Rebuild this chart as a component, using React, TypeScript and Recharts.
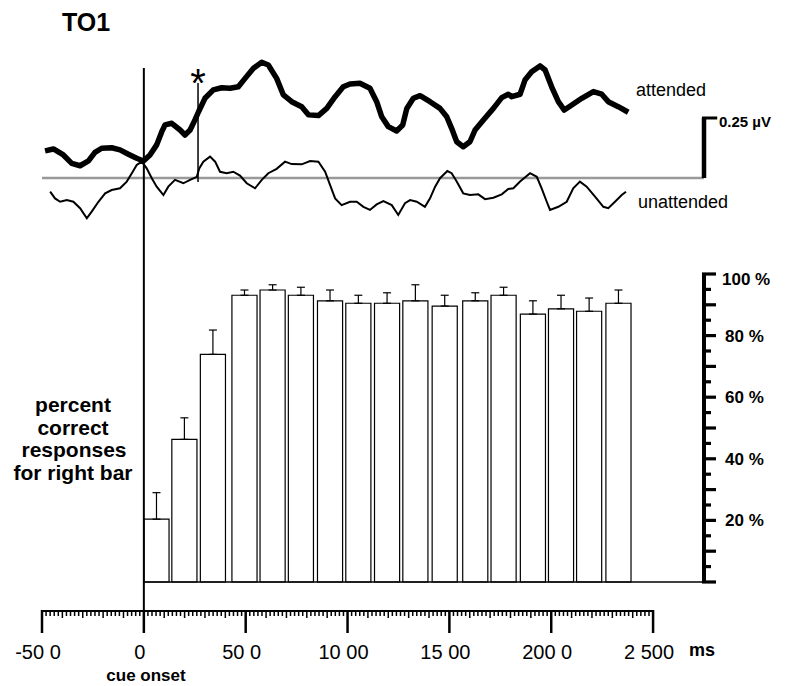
import React from "react";
import {
  ComposedChart,
  Bar,
  Line,
  XAxis,
  YAxis,
  ErrorBar,
  ReferenceLine,
} from "recharts";

// ---- percent correct bars (bin centre in ms, percent, top of error bar) ----
const binT = [64, 201, 341, 496, 634, 773, 916, 1055, 1196, 1335, 1479, 1629, 1768, 1912, 2050, 2188, 2332];
const pctCorrect = [20.4, 46.3, 73.9, 93.1, 94.8, 93.1, 91.3, 90.5, 90.5, 91.3, 89.6, 91.3, 93.1, 87.0, 88.7, 87.9, 90.5];
const errTop = [29.0, 53.3, 81.8, 94.8, 96.5, 95.7, 94.8, 93.1, 93.9, 96.5, 93.1, 93.9, 95.7, 91.3, 93.1, 92.2, 94.8];

// ---- ERP waveforms (ms, µV) ----
const attended = [
  [-485, 0.113], [-444, 0.121], [-395, 0.096], [-354, 0.061], [-313, 0.051], [-272, 0.071], [-240, 0.107],
  [-207, 0.124], [-158, 0.126], [-117, 0.117], [-76, 0.099], [-35, 0.082], [-2, 0.071], [30, 0.096],
  [63, 0.138], [88, 0.193], [104, 0.221], [137, 0.228], [178, 0.2], [202, 0.179], [227, 0.2], [251, 0.242],
  [268, 0.275], [300, 0.332], [341, 0.367], [382, 0.376], [423, 0.374], [464, 0.38], [497, 0.415],
  [538, 0.457], [579, 0.482], [611, 0.471], [652, 0.415], [685, 0.346], [726, 0.318], [775, 0.297],
  [808, 0.263], [857, 0.26], [898, 0.29], [939, 0.339], [979, 0.38], [1012, 0.392], [1061, 0.395],
  [1110, 0.374], [1143, 0.318], [1168, 0.255], [1200, 0.214], [1241, 0.196], [1271, 0.221], [1291, 0.29],
  [1323, 0.332], [1356, 0.343], [1405, 0.318], [1454, 0.29], [1487, 0.255], [1511, 0.207], [1536, 0.151],
  [1568, 0.13], [1601, 0.151], [1626, 0.2], [1667, 0.242], [1716, 0.29], [1757, 0.335], [1789, 0.349],
  [1806, 0.339], [1847, 0.349], [1871, 0.408], [1904, 0.443], [1945, 0.467], [1970, 0.45], [2002, 0.38],
  [2035, 0.318], [2064, 0.283], [2101, 0.304], [2150, 0.332], [2207, 0.36], [2248, 0.349], [2280, 0.318],
  [2329, 0.297], [2378, 0.274],
];
const unattended = [
  [-460, -0.057], [-436, -0.085], [-411, -0.099], [-378, -0.092], [-346, -0.099], [-313, -0.126],
  [-280, -0.168], [-256, -0.14], [-223, -0.099], [-190, -0.064], [-158, -0.05], [-117, -0.043],
  [-84, -0.015], [-59, 0.02], [-35, 0.054], [-10, 0.068], [14, 0.04], [39, -0.001], [63, -0.036],
  [96, -0.071], [120, -0.036], [153, -0.008], [194, -0.022], [227, -0.008], [260, 0.005], [272, 0.04],
  [292, 0.068], [325, 0.089], [350, 0.068], [374, 0.026], [407, 0.02], [439, 0.026], [472, 0.01],
  [505, -0.022], [546, -0.043], [579, -0.008], [611, 0.02], [652, 0.038], [693, 0.068], [726, 0.058],
  [775, 0.057], [816, 0.071], [857, 0.068], [890, 0.026], [914, -0.029], [939, -0.085], [971, -0.113],
  [1012, -0.099], [1045, -0.099], [1078, -0.12], [1110, -0.133], [1143, -0.11], [1176, -0.096],
  [1217, -0.113], [1249, -0.154], [1282, -0.105], [1307, -0.092], [1340, -0.099], [1380, -0.12],
  [1405, -0.085], [1430, -0.036], [1454, -0.001], [1490, 0.029], [1511, 0.02], [1536, -0.015],
  [1568, -0.064], [1601, -0.071], [1642, -0.068], [1675, -0.088], [1716, -0.082], [1757, -0.068],
  [1789, -0.046], [1814, -0.043], [1847, -0.015], [1896, 0.02], [1929, 0.005], [1953, -0.043],
  [1978, -0.099], [1994, -0.133], [2035, -0.12], [2076, -0.099], [2108, -0.043], [2141, -0.015],
  [2174, -0.036], [2215, -0.078], [2256, -0.12], [2280, -0.126], [2313, -0.099], [2346, -0.071],
  [2367, -0.057],
];

// ---- axes ----
const xMajorTicks = [-500, 0, 500, 1000, 1500, 2000, 2500];
const xTickLabels = ["-50 0", "0", "50 0", "10 00", "15 00", "200 0", "2 500"];
const pctLabelTicks = [20, 40, 60, 80, 100];
const starT = 266;
const scaleBarUV = 0.25;

const X_DOMAIN: [number, number] = [-500, 2750];
const PCT_DOMAIN: [number, number] = [-9.42, 172.73];
const UV_DOMAIN: [number, number] = [-1.8042, 0.5333];

const barData = binT.map((t, i) => ({
  t,
  pct: pctCorrect[i],
  err: [0, +(errTop[i] - pctCorrect[i]).toFixed(2)],
}));
const attendedData = attended.map(([t, uv]) => ({ t, uv }));
const unattendedData = unattended.map(([t, uv]) => ({ t, uv }));

const xTicks: number[] = [];
for (let v = -500; v <= 2500; v += 20) xTicks.push(v);
const pctTicks: number[] = [];
for (let v = 0; v <= 100; v += 5) pctTicks.push(v);

const FONT = "'Liberation Sans', Arial, Helvetica, sans-serif";

const XTick = (props: any) => {
  const { x, y, payload } = props;
  const v = payload.value as number;
  const majorIdx = xMajorTicks.indexOf(v);
  const major = majorIdx >= 0;
  const mid = v % 100 === 0;
  const len = major ? 22 : mid ? 7 : 5;
  return (
    <g>
      <line x1={x} x2={x} y1={y - 1} y2={y + len} stroke="#000" strokeWidth={major ? 2.5 : 1.5} />
      {major && (
        <text x={x - 4} y={y + 48} textAnchor="middle" fontSize={20} fontFamily={FONT} fill="#000">
          {xTickLabels[majorIdx]}
        </text>
      )}
    </g>
  );
};

const PctTick = (props: any) => {
  const { x, y, payload } = props;
  const v = payload.value as number;
  const major = v % 10 === 0;
  const showLabel = pctLabelTicks.indexOf(v) >= 0;
  return (
    <g>
      <rect x={x - 2} y={y - 1.6} width={major ? 14 : 9} height={3.2} fill="#000" />
      {showLabel && (
        <text
          x={x + (v === 100 ? 18 : 21)}
          y={y + 6 + (v === 100 ? 5 : 0)}
          fontSize={17}
          fontWeight="bold"
          fontFamily={FONT}
          fill="#000"
        >
          {`${v} %`}
        </text>
      )}
    </g>
  );
};

export default function App() {
  return (
    <div style={{ position: "absolute", left: 0, top: 0, width: 785, height: 686, background: "#fff" }}>
      <ComposedChart
        width={785}
        height={686}
        data={barData}
        margin={{ top: 50, right: 11, bottom: 35, left: 42 }}
      >
        <XAxis
          xAxisId="main"
          type="number"
          dataKey="t"
          domain={X_DOMAIN}
          allowDataOverflow
          ticks={xTicks}
          interval={0}
          axisLine={false}
          tickLine={false}
          tickSize={0}
          tickMargin={0}
          height={40}
          tick={<XTick />}
        />
        <XAxis xAxisId="wave" type="number" dataKey="t" domain={X_DOMAIN} allowDataOverflow hide />
        <YAxis
          yAxisId="pct"
          orientation="right"
          type="number"
          domain={PCT_DOMAIN}
          allowDataOverflow
          ticks={pctTicks}
          interval={0}
          axisLine={false}
          tickLine={false}
          tickSize={0}
          tickMargin={0}
          width={70}
          tick={<PctTick />}
        />
        <YAxis yAxisId="uv" type="number" domain={UV_DOMAIN} allowDataOverflow hide />

        {/* grey zero line of the ERP panel */}
        <ReferenceLine
          xAxisId="wave"
          yAxisId="uv"
          segment={[{ x: -500, y: 0 }, { x: 2750, y: 0 }]}
          stroke="#999"
          strokeWidth={2.5}
          ifOverflow="visible"
        />

        <Bar
          xAxisId="main"
          yAxisId="pct"
          dataKey="pct"
          barSize={28}
          fill="#fff"
          stroke="#000"
          strokeWidth={1.2}
          isAnimationActive={false}
        >
          <ErrorBar dataKey="err" width={4} stroke="#000" strokeWidth={1.2} direction="y" />
        </Bar>

        <Line
          xAxisId="wave"
          yAxisId="uv"
          data={unattendedData}
          dataKey="uv"
          type="linear"
          stroke="#000"
          strokeWidth={2}
          dot={false}
          isAnimationActive={false}
        />
        <Line
          xAxisId="wave"
          yAxisId="uv"
          data={attendedData}
          dataKey="uv"
          type="linear"
          stroke="#000"
          strokeWidth={5.5}
          strokeLinejoin="round"
          dot={false}
          isAnimationActive={false}
        />

        {/* cue onset line */}
        <ReferenceLine
          xAxisId="wave"
          yAxisId="uv"
          segment={[{ x: 0, y: UV_DOMAIN[0] }, { x: 0, y: 0.458 }]}
          stroke="#000"
          strokeWidth={2}
          ifOverflow="visible"
        />
        {/* significance marker line */}
        <ReferenceLine
          xAxisId="wave"
          yAxisId="uv"
          segment={[{ x: starT, y: -0.017 }, { x: starT, y: 0.396 }]}
          stroke="#000"
          strokeWidth={1.5}
          ifOverflow="visible"
        />
        {/* 0.25 µV scale bar */}
        <ReferenceLine
          xAxisId="wave"
          yAxisId="uv"
          segment={[{ x: 2750, y: 0 }, { x: 2750, y: scaleBarUV }]}
          stroke="#000"
          strokeWidth={4.5}
          ifOverflow="visible"
        />
        <ReferenceLine
          xAxisId="wave"
          yAxisId="uv"
          segment={[{ x: 2740, y: scaleBarUV }, { x: 2815, y: scaleBarUV }]}
          stroke="#000"
          strokeWidth={3}
          ifOverflow="visible"
        />
        {/* percent axis line */}
        <ReferenceLine
          xAxisId="main"
          yAxisId="pct"
          segment={[{ x: 2750, y: 0 }, { x: 2750, y: 100 }]}
          stroke="#000"
          strokeWidth={4}
          ifOverflow="visible"
        />
        {/* bar baseline */}
        <ReferenceLine
          xAxisId="main"
          yAxisId="pct"
          segment={[{ x: 0, y: 0 }, { x: 2750, y: 0 }]}
          stroke="#000"
          strokeWidth={1.5}
          ifOverflow="visible"
        />
        {/* time axis line */}
        <ReferenceLine
          xAxisId="main"
          yAxisId="pct"
          segment={[{ x: -500, y: PCT_DOMAIN[0] }, { x: 2500, y: PCT_DOMAIN[0] }]}
          stroke="#000"
          strokeWidth={2}
          ifOverflow="visible"
        />
      </ComposedChart>

      <svg
        width={785}
        height={686}
        style={{ position: "absolute", left: 0, top: 0, pointerEvents: "none" }}
        fontFamily={FONT}
      >
        <text x={86} y={31} textAnchor="middle" fontSize={25} fontWeight="bold">TO1</text>
        <text x={198} y={97} textAnchor="middle" fontSize={40}>*</text>
        <text x={636} y={96} fontSize={18}>attended</text>
        <text x={638} y={208} fontSize={18}>unattended</text>
        <text x={719} y={127} fontSize={15} fontWeight="bold">0.25 µV</text>
        <g fontSize={21} fontWeight="bold" textAnchor="middle">
          <text x={73} y={412}>percent</text>
          <text x={73} y={434.5}>correct</text>
          <text x={74} y={457}>responses</text>
          <text x={73} y={479.5}>for right bar</text>
        </g>
        <text x={146} y={681} textAnchor="middle" fontSize={17} fontWeight="bold">cue onset</text>
        <text x={689} y={656} fontSize={18} fontWeight="bold">ms</text>
      </svg>
    </div>
  );
}
